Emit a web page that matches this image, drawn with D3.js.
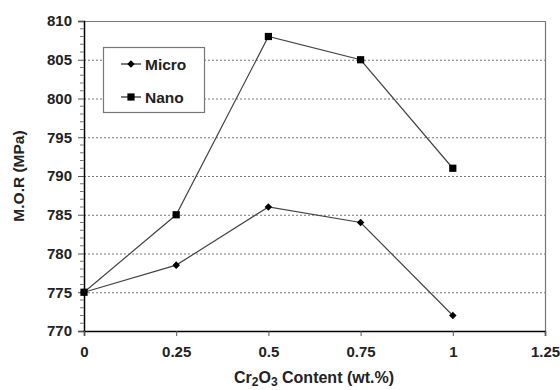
<!DOCTYPE html>
<html>
<head>
<meta charset="utf-8">
<script src="https://cdn.jsdelivr.net/npm/d3@7"></script>
<style>
  body { margin: 0; background: #fff; }
  text { font-family: "Liberation Sans", Arial, sans-serif; font-weight: bold; fill: #222; }
</style>
</head>
<body>
<svg id="chart" width="560" height="390"></svg>
<script>
// data
let contents = [0, 0.25, 0.5, 0.75, 1];
let micro = [775, 778.5, 786, 784, 772];
let nano = [775, 785, 808, 805, 791];
let xTicks = [0, 0.25, 0.5, 0.75, 1, 1.25];
let yTicks = [770, 775, 780, 785, 790, 795, 800, 805, 810];
let seriesNames = ["Micro", "Nano"];

let svg = d3.select("#chart");
let m = {left: 84, top: 21, right: 545, bottom: 331};

let x = d3.scaleLinear().domain([0, 1.25]).range([m.left, m.right]);
let y = d3.scaleLinear().domain([770, 810]).range([m.bottom, m.top]);

// gridlines
svg.append("g").selectAll("line")
    .data(yTicks.filter(d => d > 770 && d < 810))
    .enter().append("line")
    .attr("x1", m.left).attr("x2", m.right)
    .attr("y1", d => y(d) + 0.5).attr("y2", d => y(d) + 0.5)
    .style("stroke", "#777")
    .style("stroke-width", 1)
    .style("stroke-dasharray", "2 2");

// frame: top/right grey
svg.append("path")
    .attr("d", `M${m.left},${m.top + 0.5}H${m.right + 0.5}V${m.bottom}`)
    .style("fill", "none").style("stroke", "#777").style("stroke-width", 1.2);

let tickFont = "15px";

// y axis
let yAxis = d3.axisLeft(y).tickValues(yTicks).tickSize(6).tickPadding(6).tickFormat(d3.format("d"));
let gy = svg.append("g").attr("transform", `translate(${m.left},0)`).call(yAxis);
gy.select(".domain").style("stroke", "#000").style("stroke-width", 1.5);
gy.selectAll(".tick line").style("stroke", "#555");
gy.selectAll("text").style("font-size", tickFont).style("font-family", "Liberation Sans, Arial").style("font-weight", "bold").attr("fill", "#222");
// minor ticks
svg.append("g").selectAll("line")
    .data(d3.range(770, 811, 1).filter(d => d % 5 !== 0))
    .enter().append("line")
    .attr("x1", m.left - 4).attr("x2", m.left)
    .attr("y1", d => y(d)).attr("y2", d => y(d))
    .style("stroke", "#777");

// x axis
let xAxis = d3.axisBottom(x).tickValues(xTicks).tickSize(5).tickPadding(10).tickFormat(d => d);
let gx = svg.append("g").attr("transform", `translate(0,${m.bottom})`).call(xAxis);
gx.select(".domain").style("stroke", "#000").style("stroke-width", 1.5);
gx.selectAll(".tick line").style("stroke", "#555");
gx.selectAll("text").style("font-size", tickFont).style("font-family", "Liberation Sans, Arial").style("font-weight", "bold").attr("fill", "#222");

// axis titles
svg.append("text")
    .attr("transform", "translate(24,176) rotate(-90)")
    .attr("text-anchor", "middle")
    .style("font-size", "15.5px")
    .text("M.O.R (MPa)");

let xt = svg.append("text")
    .attr("x", 314).attr("y", 383)
    .attr("text-anchor", "middle")
    .style("font-size", "16px");
xt.append("tspan").text("Cr");
xt.append("tspan").attr("dy", 3).style("font-size", "12px").text("2");
xt.append("tspan").attr("dy", -3).text("O");
xt.append("tspan").attr("dy", 3).style("font-size", "12px").text("3");
xt.append("tspan").attr("dy", -3).text(" Content (wt.%)");

// series
let line = d3.line().x((d, i) => x(contents[i])).y(d => y(d));
let lineColor = "#444";
[micro, nano].forEach((vals, k) => {
    svg.append("path")
        .attr("d", line(vals))
        .style("fill", "none")
        .style("stroke", lineColor)
        .style("stroke-width", 1.2);
});

let diamond = d3.symbol().type(d3.symbolDiamond2).size(36);
let square = d3.symbol().type(d3.symbolSquare).size(52);

svg.append("g").selectAll("path")
    .data(micro).enter().append("path")
    .attr("d", diamond)
    .attr("transform", (d, i) => `translate(${x(contents[i])},${y(d)})`)
    .style("fill", "#000");

svg.append("g").selectAll("path")
    .data(nano).enter().append("path")
    .attr("d", square)
    .attr("transform", (d, i) => `translate(${x(contents[i])},${y(d)})`)
    .style("fill", "#000");

// legend
let lg = svg.append("g");
lg.append("rect")
    .attr("x", 103.5).attr("y", 47.5).attr("width", 101).attr("height", 65)
    .style("fill", "#fff").style("stroke", "#777").style("stroke-width", 1.2);
let shapes = [diamond, square];
seriesNames.forEach((name, i) => {
    let yy = 64 + i * 33;
    lg.append("line")
        .attr("x1", 121).attr("x2", 141).attr("y1", yy).attr("y2", yy)
        .style("stroke", "#222").style("stroke-width", 1.2);
    lg.append("path")
        .attr("d", shapes[i])
        .attr("transform", `translate(131,${yy})`)
        .style("fill", "#000");
    lg.append("text")
        .attr("x", 145).attr("y", yy + 5.5)
        .style("font-size", "15.5px")
        .text(name);
});
</script>
</body>
</html>
